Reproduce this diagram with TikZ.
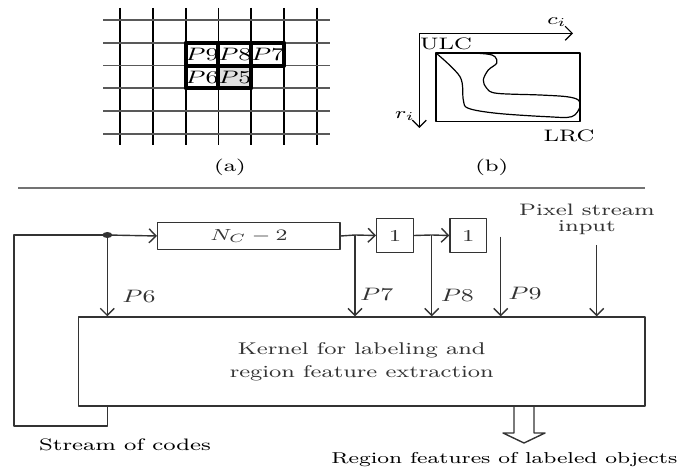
\documentclass[tikz,border=0pt]{standalone}
\usetikzlibrary{arrows.meta,positioning}
\newcommand{\stretchtxt}[1]{\scalebox{1.4}[1]{#1}}
\tikzset{
  blk/.style={draw, inner sep=0pt, minimum height=13.3pt},
  dly/.style={draw, inner sep=0pt, minimum width=18.3pt, minimum height=17.2pt},
  plbl/.style={inner sep=0pt, font=\fontsize{9}{10}\selectfont},
  txt/.style={inner sep=0pt, align=center},
}
\begin{document}
\begin{tikzpicture}[x=0.5pt, y=-0.5pt, line join=round, font=\fontsize{8.3}{10}\selectfont,
  >={Straight Barb[length=3.5pt,width=7pt]}]
\useasboundingbox (0,0) rectangle (683,474);
% (a) pixel grid
\foreach \i in {0,...,6}
  \draw[line width=0.9pt] (120+\i*32.8,8) -- (120+\i*32.8,145);
\foreach \j in {0,...,5}
  \draw[line width=0.9pt, black!65] (103,20+\j*22.8) -- (330,20+\j*22.8);
\fill[black!12] (218.4,65.6) rectangle (251.2,88.4);
\foreach \c/\r/\t in {2/1/P9, 3/1/P8, 4/1/P7, 2/2/P6, 3/2/P5} {
  \draw[line width=2pt] (120+\c*32.8,20+\r*22.8) rectangle ++(32.8,22.8);
  \node[plbl] (\t) at (136.4+\c*32.8,31.4+\r*22.8) {\stretchtxt{$\t$}};
}
\node[txt] (capa) at (230,167) {\stretchtxt{(a)}};

% (b) bounding box of a region
\coordinate (org) at (419.3,33.3);
\coordinate (cend) at (573,33.3);
\coordinate (rend) at (419.3,128);
\draw[->, line width=0.6pt] (org) -- (cend);
\draw[->, line width=0.6pt] (org) -- (rend);
\node[txt] (ci) at (557,22) {\stretchtxt{$c_i$}};
\node[txt] (ri) at (405,116) {\stretchtxt{$r_i$}};
\draw[line width=0.6pt] (436,53) rectangle (580,121.7);
\draw[line width=0.6pt] plot[smooth, tension=0.55] coordinates {(436,53) (460,76.7) (463.3,100)
  (468.3,108.3) (496.7,113.3) (546.7,116.7) (571.7,116.7) (580,106.7) (578.3,100) (566.7,96.7)
  (540,95) (496.7,93.3) (486.7,88.3) (483.3,80) (488.3,70) (496.7,63.3) (495,56.7) (486.7,54)
  (463.3,52.7) (436,53)};
\node[txt] (ulc) at (446,43.5) {\stretchtxt{ULC}};
\node[txt] (lrc) at (569,136) {\stretchtxt{LRC}};
\node[txt] (capb) at (491.7,167) {\stretchtxt{(b)}};

\draw[line width=1pt, black!55] (18,188.5) -- (645,188.5);

% block diagram
\begin{scope}[line width=0.7pt, black!80]
\node[blk, minimum width=91.2pt] (nc) at (248.9,236) {\stretchtxt{$N_C-2$}};
\node[dly] (d1) at (395,235.5) {\stretchtxt{1}};
\node[dly] (d2) at (468.3,235.5) {\stretchtxt{1}};
\node[draw, minimum width=283.3pt, minimum height=44.5pt, align=center,
  font=\fontsize{8.5}{11.7}\selectfont] (kern) at (361.7,361.5)
  {\stretchtxt{Kernel for labeling and}\\\stretchtxt{region feature extraction}};
\node[txt] (pix) at (587,219) {\stretchtxt{Pixel stream}\\[-2pt]\stretchtxt{input}};

\coordinate (dot) at (107.3,235);
\coordinate (s7) at (355,235);
\coordinate (s8) at (431.7,235);
\coordinate (p9) at (500.7,236.7);
\coordinate (pin) at (596.7,245);
\coordinate (cnr) at (14,426);

% feedback loop of codes
\draw (kern.south -| dot) -- (dot |- cnr) -- (cnr) -- (cnr |- dot) -- (dot);
\fill (dot) ellipse (5 and 3);
\draw[->] (dot) -- (nc.west);
\draw (nc.east) -- (s7);
\draw[->] (s7) -- (d1.west);
\draw (d1.east) -- (s8);
\draw[->] (s8) -- (d2.west);

% taps into the kernel
\draw[->] (dot) -- (dot |- kern.north);
\draw[->] (s7) -- (s7 |- kern.north);
\draw[->] (s8) -- (s8 |- kern.north);
\draw[->] (p9) -- (p9 |- kern.north);
\draw[->] (pin) -- (pin |- kern.north);
\node[plbl] (l6) at (139,296) {\stretchtxt{$P6$}};
\node[plbl] (l7) at (376.7,294) {\stretchtxt{$P7$}};
\node[plbl] (l8) at (457.3,295) {\stretchtxt{$P8$}};
\node[plbl] (l9) at (525,293) {\stretchtxt{$P9$}};

% output
\coordinate (outp) at (524,406);
\draw (outp) ++(-10,0) -- ++(0,27) -- ++(-11,0) -- ++(21,10) -- ++(21,-10) -- ++(-11,0) -- ++(0,-27);
\end{scope}
\node[txt] (codes) at (125,445) {\stretchtxt{Stream of codes}};
\node[txt, anchor=west, font=\fontsize{7.9}{10}\selectfont] (feat) at (331,460)
  {\stretchtxt{Region features of labeled objects}};
\end{tikzpicture}
\end{document}
